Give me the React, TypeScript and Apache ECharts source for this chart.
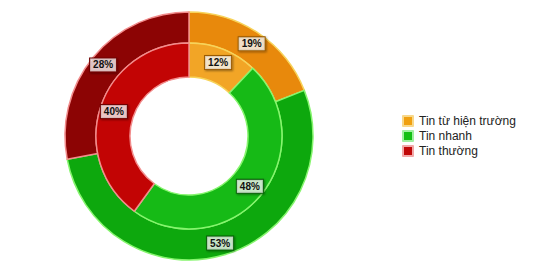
import React, { useEffect, useRef } from "react";
import * as echarts from "echarts";

const categories = ["Tin từ hiện trường", "Tin nhanh", "Tin thường"];
const outerValues = [19, 53, 28];
const innerValues = [12, 48, 40];

const outerColors = ["#E8890C", "#0DA80D", "#8C0404"];
const innerColors = ["#F2A526", "#16BA16", "#C20404"];
const borderColors = ["#F7D35A", "#86F56E", "#F28C8C"];
const labelBorders = ["#9A5A00", "#0A600A", "#700000"];
const legendColors = ["#F0A010", "#14C014", "#C00808"];
const legendBorders = ["#F8D88A", "#A0F0A0", "#F2A8A8"];

export default function App() {
  const ref = useRef<HTMLDivElement>(null);
  useEffect(() => {
    if (!ref.current) return;
    const chart = echarts.init(ref.current, undefined, { renderer: "svg" });
    const mk = (vals: number[], cols: string[]) =>
      vals.map((v, i) => ({
        name: categories[i],
        value: v,
        itemStyle: {
          color: cols[i],
          borderColor: borderColors[i],
          borderWidth: 1.5,
        },
        label: { borderColor: labelBorders[i] },
      }));
    const label = {
      show: true,
      position: "inside",
      formatter: "{c}%",
      fontSize: 10,
      fontWeight: "bold",
      fontFamily: "Liberation Sans, Arial, sans-serif",
      color: "#111",
      backgroundColor: "rgba(255,255,255,0.72)",
      borderWidth: 1,
      padding: [2, 3, 1, 3],
      shadowColor: "rgba(0,0,0,0.4)",
      shadowBlur: 2,
      shadowOffsetX: 1,
      shadowOffsetY: 1,
    };
    chart.setOption({
      animation: false,
      legend: {
        orient: "vertical",
        left: 397,
        top: 110,
        itemWidth: 10,
        itemHeight: 10,
        itemGap: 3,
        icon: "rect",
        textStyle: {
          fontSize: 12,
          color: "#222",
          fontFamily: "Liberation Sans, Arial, sans-serif",
          padding: [0, 0, 0, 1],
        },
        data: categories.map((c, i) => ({
          name: c,
          itemStyle: {
            color: legendColors[i],
            borderColor: legendBorders[i],
            borderWidth: 2,
          },
        })),
      },
      series: [
        {
          type: "pie",
          center: [189, 136],
          radius: [93, 124],
          startAngle: 90,
          clockwise: true,
          label,
          labelLine: { show: false },
          emphasis: { disabled: true },
          data: mk(outerValues, outerColors),
        },
        {
          type: "pie",
          center: [189, 136],
          radius: [59, 93],
          startAngle: 90,
          clockwise: true,
          label,
          labelLine: { show: false },
          emphasis: { disabled: true },
          data: mk(innerValues, innerColors),
        },
      ],
    });
    return () => chart.dispose();
  }, []);
  return (
    <div
      ref={ref}
      style={{ position: "absolute", left: 0, top: 0, width: 536, height: 264 }}
    />
  );
}
